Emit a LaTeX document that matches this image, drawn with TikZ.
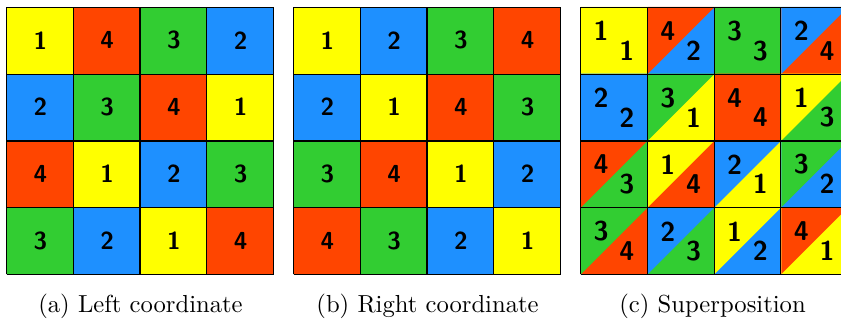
\documentclass[tikz,border=0pt]{standalone}
\definecolor{col1}{HTML}{FFFF00}
\definecolor{col2}{HTML}{1E90FF}
\definecolor{col3}{HTML}{32CD32}
\definecolor{col4}{HTML}{FF4500}
\tikzset{
  cell/.style={font=\sffamily\bfseries\fontsize{10.5}{12}\selectfont, minimum size=1cm, inner sep=0pt},
  sq/.style={cell, fill=col#1},
  half/.style 2 args={cell, path picture={
    \fill[col#2] (path picture bounding box.south west) rectangle (path picture bounding box.north east);
    \fill[col#1] (path picture bounding box.south west) -- (path picture bounding box.north west)
      -- (path picture bounding box.north east) -- cycle;}},
  num/.style={font=\sffamily\bfseries\fontsize{11.6}{13}\selectfont, inner sep=0pt},
  gridline/.style={line width=0.5pt},
  caption/.style={anchor=base, font=\fontsize{10.5}{13}\selectfont}
}
\begin{document}
\begin{tikzpicture}
      \useasboundingbox (-0.105,-0.689) rectangle (12.494,4.105);
      % (a) left coordinate
      \draw
        (0.5,3.5) node[sq=1] (a11){1}
        (1.5,3.5) node[sq=4] (a12){4}
        (2.5,3.5) node[sq=3] (a13){3}
        (3.5,3.5) node[sq=2] (a14){2}
        (0.5,2.5) node[sq=2] (a21){2}
        (1.5,2.5) node[sq=3] (a22){3}
        (2.5,2.5) node[sq=4] (a23){4}
        (3.5,2.5) node[sq=1] (a24){1}
        (0.5,1.5) node[sq=4] (a31){4}
        (1.5,1.5) node[sq=1] (a32){1}
        (2.5,1.5) node[sq=2] (a33){2}
        (3.5,1.5) node[sq=3] (a34){3}
        (0.5,0.5) node[sq=3] (a41){3}
        (1.5,0.5) node[sq=2] (a42){2}
        (2.5,0.5) node[sq=1] (a43){1}
        (3.5,0.5) node[sq=4] (a44){4};
      \draw[gridline, shift={(a41.south west)}] (0,0) grid (4,4);
      \node[caption] (capa) at (2,-0.57) {(a) Left coordinate};
      % (b) right coordinate
      \draw
        (4.8,3.5) node[sq=1] (b11){1}
        (5.8,3.5) node[sq=2] (b12){2}
        (6.8,3.5) node[sq=3] (b13){3}
        (7.8,3.5) node[sq=4] (b14){4}
        (4.8,2.5) node[sq=2] (b21){2}
        (5.8,2.5) node[sq=1] (b22){1}
        (6.8,2.5) node[sq=4] (b23){4}
        (7.8,2.5) node[sq=3] (b24){3}
        (4.8,1.5) node[sq=3] (b31){3}
        (5.8,1.5) node[sq=4] (b32){4}
        (6.8,1.5) node[sq=1] (b33){1}
        (7.8,1.5) node[sq=2] (b34){2}
        (4.8,0.5) node[sq=4] (b41){4}
        (5.8,0.5) node[sq=3] (b42){3}
        (6.8,0.5) node[sq=2] (b43){2}
        (7.8,0.5) node[sq=1] (b44){1};
      \draw[gridline, shift={(b41.south west)}] (0,0) grid (4,4);
      \node[caption] (capb) at (6.3,-0.57) {(b) Right coordinate};
      % (c) superposition
      \draw
        (9.1,3.5) node[half={1}{1}] (c11){}
        (10.1,3.5) node[half={4}{2}] (c12){}
        (11.1,3.5) node[half={3}{3}] (c13){}
        (12.1,3.5) node[half={2}{4}] (c14){}
        (9.1,2.5) node[half={2}{2}] (c21){}
        (10.1,2.5) node[half={3}{1}] (c22){}
        (11.1,2.5) node[half={4}{4}] (c23){}
        (12.1,2.5) node[half={1}{3}] (c24){}
        (9.1,1.5) node[half={4}{3}] (c31){}
        (10.1,1.5) node[half={1}{4}] (c32){}
        (11.1,1.5) node[half={2}{1}] (c33){}
        (12.1,1.5) node[half={3}{2}] (c34){}
        (9.1,0.5) node[half={3}{4}] (c41){}
        (10.1,0.5) node[half={2}{3}] (c42){}
        (11.1,0.5) node[half={1}{2}] (c43){}
        (12.1,0.5) node[half={4}{1}] (c44){};
      \draw[gridline, shift={(c41.south west)}] (0,0) grid (4,4);
      \begin{scope}[every node/.style={num}]
        \draw
          (8.9,3.64) node (l11){1}  (9.285,3.345) node (r11){1}
          (9.9,3.64) node (l12){4}  (10.285,3.345) node (r12){2}
          (10.9,3.64) node (l13){3} (11.285,3.345) node (r13){3}
          (11.9,3.64) node (l14){2} (12.285,3.345) node (r14){4}
          (8.9,2.64) node (l21){2}  (9.285,2.345) node (r21){2}
          (9.9,2.64) node (l22){3}  (10.285,2.345) node (r22){1}
          (10.9,2.64) node (l23){4} (11.285,2.345) node (r23){4}
          (11.9,2.64) node (l24){1} (12.285,2.345) node (r24){3}
          (8.9,1.64) node (l31){4}  (9.285,1.345) node (r31){3}
          (9.9,1.64) node (l32){1}  (10.285,1.345) node (r32){4}
          (10.9,1.64) node (l33){2} (11.285,1.345) node (r33){1}
          (11.9,1.64) node (l34){3} (12.285,1.345) node (r34){2}
          (8.9,0.64) node (l41){3}  (9.285,0.345) node (r41){4}
          (9.9,0.64) node (l42){2}  (10.285,0.345) node (r42){3}
          (10.9,0.64) node (l43){1} (11.285,0.345) node (r43){2}
          (11.9,0.64) node (l44){4} (12.285,0.345) node (r44){1};
      \end{scope}
      \node[caption] (capc) at (10.57,-0.57) {(c) Superposition};
    \end{tikzpicture}
\end{document}
